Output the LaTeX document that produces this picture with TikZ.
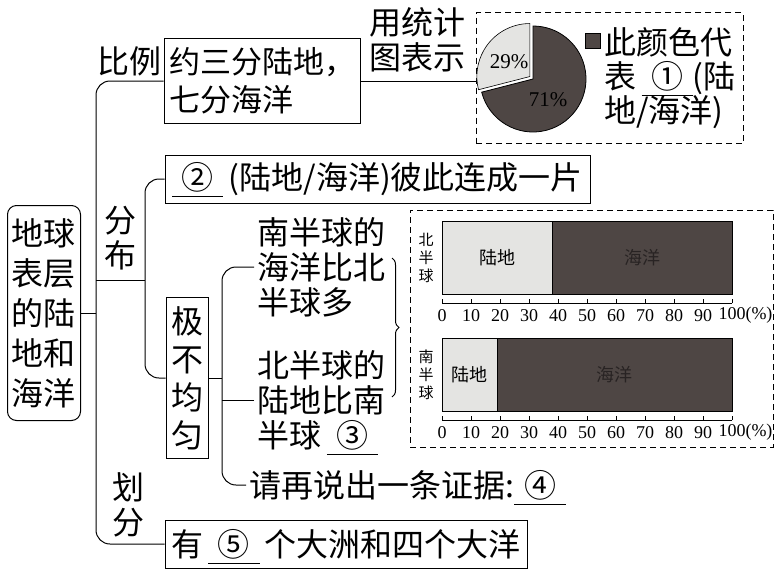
\documentclass[tikz,border=0pt]{standalone}
\usepackage{fontspec}
\setmainfont{Noto Sans CJK SC}
\newfontfamily\numfont{Liberation Serif}
\usetikzlibrary{positioning,decorations.pathreplacing}

\definecolor{seagray}{RGB}{78,70,68}
\definecolor{landgray}{RGB}{228,228,226}
\definecolor{seatext}{RGB}{40,35,35}

% blank to fill in: number with a rule under it
\newcommand\blank[1]{\makebox[1.6em]{#1}\llap{\smash{\rule[-0.24em]{1.6em}{0.8pt}}}}

\begin{document}
\begin{tikzpicture}[x=1pt, y=-1pt, node distance=4pt, line width=1pt]
  \tikzset{
    big/.style={font=\fontsize{32}{35}\selectfont},
    tag/.style={big, align=center, inner sep=0pt},
    box/.style={draw, big, inner sep=2pt, align=left},
    rootbox/.style={box, rounded corners=9pt, align=center, font=\fontsize{32}{40}\selectfont},
    words/.style={big, align=left, inner sep=3pt},
    dashbox/.style={draw, dash pattern=on 6pt off 4pt},
    link/.style={rounded corners=14pt},
    small/.style={font=\fontsize{15}{18}\selectfont, align=center, inner sep=0pt},
    num/.style={font=\numfont\fontsize{18}{18}\selectfont, inner sep=0pt},
  }
  \useasboundingbox (0,0) rectangle (781,571);

  % root and ratio
  \node[rootbox, minimum width=73pt, minimum height=215pt] (root) at (44,313) {地球\\表层\\的陆\\地和\\海洋};
  \node[box, minimum width=196pt, minimum height=85pt, font=\fontsize{31}{38}\selectfont] (ratio) at (262,81) {约三分陆地，\\七分海洋};
  \node[tag] (ratiotag) at (129,61) {比例};
  \node[tag, align=left] (charttag) at (417,40) {用统计\\图表示};

  % pie chart
  \node[dashbox, minimum width=267pt, minimum height=131pt] (piebox) at (609.5,78) {};
  \node[circle, minimum size=106pt, inner sep=0pt] (pie) at (533,79) {};
  \filldraw[fill=seagray, line width=0.8pt] (pie.center) -- ++(-194.4:53) arc[start angle=-194.4, end angle=-450, radius=53] -- cycle;
  \filldraw[fill=landgray, line width=0.6pt] ([shift={(-142:4)}]pie.center) -- ++(-90:53) arc[start angle=-90, end angle=-194.4, radius=53] -- cycle;
  \node[num, font=\numfont\fontsize{21}{21}\selectfont] (pct29) at (509,62) {29\%};
  \node[num, font=\numfont\fontsize{21}{21}\selectfont] (pct71) at (548,100) {71\%};
  \node[words, inner sep=0pt, font=\fontsize{32}{34}\selectfont] (legend) at (670,78) {此颜色代\\表\,\blank{①}(陆\\地/海洋)};
  \node[fill=seagray, draw, line width=0.6pt, minimum size=15pt, inner sep=0pt] (swatch) at (593,41) {};
  \draw (ratio.east) -- (ratio.east -| piebox.west);

  % distribution
  \node[box, minimum width=425pt, minimum height=48pt] (linked) at (377.5,179) {\blank{②}\,(陆地/海洋)彼此连成一片};
  \node[tag] (spreadtag) at (120,238) {分\\布};
  \node[box, minimum width=42pt, minimum height=161pt, align=center, font=\fontsize{32}{38}\selectfont] (uneven) at (187,378) {极\\不\\均\\匀};
  \node[words, anchor=west] (south) at (254,267) {南半球的\\海洋比北\\半球多};
  \node[words, anchor=west] (north) at (254,400) {北半球的\\陆地比南\\半球\,\blank{③}};
  \node[words, anchor=west] (proof) at (246,485) {请再说出一条证据:\blank{④}};
  \draw[decorate, decoration={brace, amplitude=7pt}] (392,258) -- (392,397);

  % bar charts
  \node[dashbox, minimum width=363pt, minimum height=237pt] (chartbox) at (591.5,328.5) {};
  \foreach \mid/\land/\side/\row in {257.5/38/北/n, 374.5/19/南/s} {
    \fill[seagray] (442,\mid-36.5) rectangle (732,\mid+36.5);
    \fill[landgray] (442,\mid-36.5) rectangle ({442+2.9*\land},\mid+36.5);
    \draw[line width=0.8pt] (442,\mid-36.5) rectangle (732,\mid+36.5);
    \draw[line width=0.8pt] ({442+2.9*\land},\mid-36.5) -- ++(0,73);
    \node[small, font=\fontsize{18}{18}\selectfont] (land\row) at ({442+1.45*\land},\mid) {陆地};
    \node[small, font=\fontsize{18}{18}\selectfont, text=seatext] (sea\row) at ({587+1.45*\land},\mid) {海洋};
    \node[small] (hemi\row) at (426,\mid) {\side\\半\\球};
    \draw[line width=0.8pt] (442,\mid+45.5) -- (732,\mid+45.5);
    \foreach \v in {0,10,...,100}
      \draw[line width=0.8pt] ({442+2.9*\v},\mid+45.5) -- ++(0,-4);
    \foreach \v in {0,10,...,90}
      \node[num] at ({442+2.9*\v},\mid+58) {\v};
    \node[num] at (732,\mid+58) {100\rlap{(\%)}};
  }

  % division
  \node[tag] (splittag) at (128,505) {划\\分};
  \node[box, minimum width=362pt, minimum height=48pt] (continents) at (346,544) {有\,\blank{⑤}\,个大洲和四个大洋};

  % connectors
  \coordinate (trunk) at (96,313);
  \coordinate (fork) at (145,280);
  \coordinate (sprig) at (222,378);
  \draw (root.east) -- (trunk);
  \draw[link] (ratio.west) -| (trunk) |- (continents.west);
  \draw (trunk |- fork) -- (fork);
  \draw[link] (linked.west) -| (fork) |- (uneven.west);
  \draw (uneven.east) -- (sprig);
  \draw[link] (south.west) -| (sprig) |- (proof.west);
  \draw (north.west) -- (north.west -| sprig);
\end{tikzpicture}
\end{document}
